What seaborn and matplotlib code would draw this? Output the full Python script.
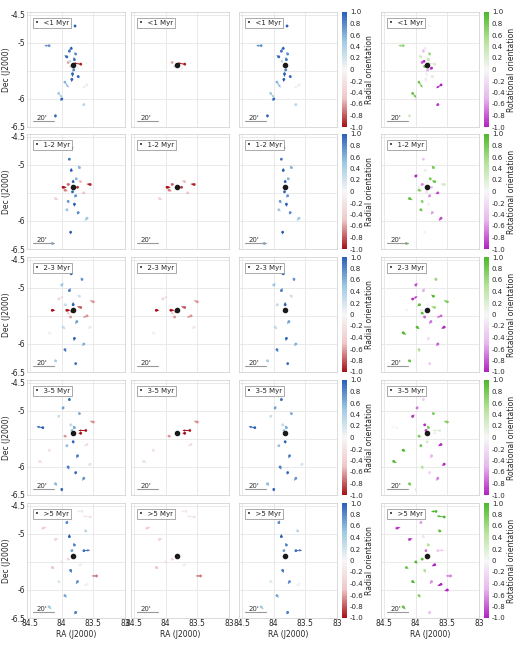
import numpy as np
import matplotlib
matplotlib.use('Agg')
import matplotlib.pyplot as plt
import seaborn as sns
from matplotlib.colors import LinearSegmentedColormap, Normalize

sns.set_theme(style='whitegrid')
plt.rcParams['font.family'] = ['DejaVu Sans']

# Trapezium centre
RA0, DEC0 = 83.82, -5.39

AGE_LABELS = ['<1 Myr', '1-2 Myr', '2-3 Myr', '3-5 Myr', '>5 Myr']

# per age bin: position (deg) and proper-motion offset (deg on sky)
ra_1 = [83.80, 83.86, 83.78, 83.90, 83.75, 83.83, 83.88, 83.70, 84.20, 83.95, 83.60, 83.85, 83.92, 84.05, 83.81, 83.74, 84.10, 83.79, 83.84, 84.00, 83.65, 83.87]
dec_1 = [-5.30, -5.42, -5.20, -5.35, -5.45, -5.55, -5.15, -5.38, -5.05, -5.70, -5.75, -5.10, -5.25, -5.90, -5.48, -5.60, -6.30, -4.70, -5.65, -6.00, -6.10, -5.33]
dx_1 = [0.01, -0.03, 0.02, -0.02, 0.03, 0.00, -0.01, 0.12, 0.08, -0.06, 0.08, 0.00, 0.04, -0.06, 0.02, -0.02, 0.00, 0.00, 0.01, 0.02, 0.03, -0.02]
dy_1 = [0.05, -0.02, 0.04, 0.01, -0.03, -0.06, 0.05, 0.02, 0.00, -0.10, -0.06, 0.04, 0.03, -0.08, -0.04, -0.03, -0.04, 0.03, -0.05, -0.04, -0.02, 0.03]

ra_2 = [83.82, 83.90, 83.75, 83.95, 83.70, 83.85, 83.78, 83.88, 84.00, 83.65, 83.80, 83.92, 83.72, 84.10, 83.60, 83.86, 83.84, 83.77, 83.98, 83.55, 83.83, 84.15, 83.90, 83.74]
dec_2 = [-5.30, -5.35, -5.40, -5.45, -5.30, -5.10, -5.55, -4.90, -5.20, -5.50, -5.70, -5.80, -5.05, -5.60, -5.95, -6.20, -4.70, -5.25, -5.40, -5.35, -5.48, -6.40, -5.65, -5.85]
dx_2 = [0.00, -0.04, 0.03, -0.05, 0.05, 0.00, 0.02, -0.01, -0.03, 0.04, 0.00, -0.03, 0.03, -0.05, 0.04, 0.00, 0.00, 0.02, -0.06, 0.06, 0.01, -0.02, -0.02, 0.02]
dy_2 = [0.04, 0.01, -0.01, -0.02, 0.02, 0.05, -0.04, 0.03, 0.03, -0.02, -0.05, -0.03, 0.04, -0.03, -0.05, -0.04, 0.02, 0.03, 0.00, 0.01, -0.03, -0.03, -0.04, -0.04]

ra_3 = [83.82, 83.92, 83.70, 84.05, 83.60, 83.88, 83.76, 83.98, 84.15, 83.50, 83.85, 83.80, 83.95, 83.65, 84.20, 83.72, 83.90, 84.00, 83.55, 83.78, 83.86, 84.10, 83.68, 83.94, 83.84]
dec_3 = [-5.30, -5.40, -5.35, -5.20, -5.50, -5.05, -5.60, -5.70, -5.40, -5.25, -4.75, -5.90, -6.10, -6.00, -5.80, -5.15, -5.45, -4.95, -5.70, -6.35, -5.52, -6.30, -4.85, -5.30, -5.42]
dx_3 = [0.00, -0.06, 0.06, -0.08, 0.07, -0.02, 0.03, -0.04, -0.05, 0.06, 0.00, 0.01, -0.02, 0.03, -0.05, 0.04, -0.03, -0.03, 0.05, 0.01, 0.02, -0.03, 0.02, 0.04, -0.01]
dy_3 = [0.05, 0.00, 0.02, 0.05, -0.03, 0.05, -0.05, -0.04, 0.00, 0.03, 0.04, -0.05, -0.05, -0.04, -0.04, 0.03, -0.02, 0.04, -0.03, -0.03, 0.03, -0.03, 0.04, -0.03, 0.04]

ra_4 = [83.84, 83.80, 84.30, 83.95, 83.70, 84.05, 83.60, 83.88, 83.75, 84.20, 83.50, 83.90, 84.10, 83.65, 83.82, 83.98, 84.35, 83.55, 83.86, 83.72, 84.00, 83.92, 83.78, 84.15, 83.62]
dec_4 = [-5.35, -5.30, -5.30, -5.45, -5.40, -5.10, -5.60, -4.80, -5.80, -5.70, -5.20, -6.00, -6.30, -6.20, -5.55, -4.95, -5.90, -5.95, -5.25, -5.05, -6.40, -5.62, -6.10, -4.70, -5.35]
dx_4 = [-0.02, 0.03, 0.10, -0.04, 0.04, -0.03, 0.05, -0.01, 0.02, -0.04, 0.06, -0.02, -0.03, 0.03, -0.01, -0.02, -0.05, 0.04, -0.03, 0.02, 0.00, -0.02, 0.01, 0.02, 0.12]
dy_4 = [0.03, 0.04, 0.02, -0.02, 0.00, 0.04, -0.03, 0.04, -0.05, -0.03, 0.02, -0.05, -0.04, -0.05, -0.04, 0.04, -0.03, -0.03, 0.02, 0.03, -0.04, -0.03, -0.04, 0.03, 0.00]

ra_5 = [83.82, 83.80, 83.65, 83.92, 84.10, 83.55, 84.00, 83.70, 83.86, 83.45, 83.95, 84.20, 83.78, 83.60, 84.30, 83.88, 83.75, 84.05, 83.50, 83.84, 83.90, 83.68, 84.15, 83.62]
dec_5 = [-5.40, -5.20, -5.30, -4.80, -5.10, -4.70, -5.50, -5.55, -5.65, -5.75, -6.10, -6.30, -6.40, -5.90, -4.90, -5.05, -5.85, -5.85, -6.00, -5.30, -5.45, -4.60, -5.60, -4.95]
dx_5 = [0.01, 0.02, -0.10, -0.02, -0.05, 0.12, -0.03, 0.05, -0.02, 0.08, -0.03, -0.04, 0.02, 0.06, -0.06, 0.00, 0.03, -0.04, 0.05, -0.02, -0.03, 0.08, -0.04, 0.03]
dy_5 = [0.03, 0.04, 0.01, 0.04, 0.02, 0.02, -0.03, -0.03, -0.05, 0.00, -0.04, -0.05, -0.04, -0.03, 0.02, 0.05, -0.05, -0.03, -0.02, 0.03, -0.02, 0.00, -0.02, 0.03]

ROWS = [(ra_1, dec_1, dx_1, dy_1), (ra_2, dec_2, dx_2, dy_2), (ra_3, dec_3, dx_3, dy_3),
        (ra_4, dec_4, dx_4, dy_4), (ra_5, dec_5, dx_5, dy_5)]

rad_cmap = LinearSegmentedColormap.from_list('rad', ['#a50f15', '#f0c8c8', '#f7f7f7', '#9ec9e2', '#2a5fb8'])
rot_cmap = LinearSegmentedColormap.from_list('rot', ['#b020c0', '#e8b8ee', '#f7f7f7', '#b6e39a', '#4cb82a'])
norm = Normalize(-1, 1)

fig = plt.figure(figsize=(5.2, 6.59), dpi=100)
W, H = 520, 659
col_x = [27, 131, 239, 381]
pw = 98
row_top = [12, 134, 257, 380, 503]
ph = 115


def axes_px(x, y, w, h):
    return fig.add_axes([x / W, 1 - (y + h) / H, w / W, h / H])


def style(ax, label, r, c):
    ax.set_xlim(84.55, 83.0)
    ax.set_ylim(-6.5, -4.45)
    ax.set_xticks([84.5, 84, 83.5, 83])
    ax.set_yticks([-4.5, -5, -5.5, -6, -6.5])
    ax.grid(color='#e6e6e6', lw=0.6)
    ax.set_facecolor('white')
    for s in ax.spines.values():
        s.set_color('#cccccc')
        s.set_linewidth(0.5)
    ax.tick_params(labelsize=5.5, pad=1, length=0)
    if c == 0:
        ax.set_yticklabels(['-4.5', '-5', '', '-6', '-6.5'])
        ax.set_ylabel('Dec (J2000)', fontsize=5.5, labelpad=0)
    else:
        ax.set_yticklabels([])
    if r == 4:
        ax.set_xticklabels(['84.5', '84', '83.5', '83'])
        ax.set_xlabel('RA (J2000)', fontsize=5.5, labelpad=1)
    else:
        ax.set_xticklabels([])
    ax.text(0.08, 0.93, '\u2022  ' + label, transform=ax.transAxes, fontsize=5, va='top',
            bbox=dict(boxstyle='square,pad=0.3', fc='white', ec='#888888', lw=0.5))
    ax.plot([84.45, 84.12], [-6.4, -6.4], color='#999999', lw=0.8)
    ax.text(84.4, -6.37, "20'", fontsize=5, color='#333333')
    ax.plot(RA0, DEC0, 'ko', ms=3, zorder=5)


for r, (ra, dec, dx, dy) in enumerate(ROWS):
    ra, dec, dx, dy = map(np.array, (ra, dec, dx, dy))
    ox, oy = -(ra - RA0), dec - DEC0          # outward direction (east left)
    dist = np.hypot(ox, oy) + 1e-6
    mag = np.hypot(dx, dy) + 1e-6
    vx = -dx
    radial = (vx * ox + dy * oy) / dist / mag
    rot = (ox * dy - oy * vx) / dist / mag
    sel = [np.ones(len(ra), bool), radial < 0, radial > 0]
    for c in range(4):
        ax = axes_px(col_x[c], row_top[r], pw, ph)
        if c < 3:
            m = sel[c]
            val, cmap = radial[m], rad_cmap
        else:
            m = sel[0]
            val, cmap = rot, rot_cmap
        sns.scatterplot(x=ra[m], y=dec[m], hue=val, palette=cmap, hue_norm=norm,
                        s=4, legend=False, ax=ax, linewidth=0)
        ax.quiver(ra[m], dec[m], dx[m], dy[m], val, cmap=cmap, norm=norm,
                  angles='xy', scale_units='xy', scale=1, width=0.01,
                  headwidth=2.5, headlength=3, headaxislength=3)
        style(ax, AGE_LABELS[r], r, c)
        if c in (2, 3):
            cax = axes_px(col_x[c] + pw + 5, row_top[r], 5, ph)
            cb = fig.colorbar(plt.cm.ScalarMappable(norm=norm, cmap=cmap), cax=cax)
            ticks = np.round(np.arange(-1, 1.01, 0.2), 1)
            cb.set_ticks(ticks)
            cb.set_ticklabels(['-1.0', '-0.8', '-0.6', '-0.4', '-0.2', '0',
                               '0.2', '0.4', '0.6', '0.8', '1.0'])
            cb.outline.set_visible(False)
            cax.tick_params(labelsize=5, length=0, pad=2)
            cb.set_label('Radial orientation' if c == 2 else 'Rotational orientation',
                         fontsize=5.5, labelpad=1)

fig.savefig('out.png', dpi=100)
